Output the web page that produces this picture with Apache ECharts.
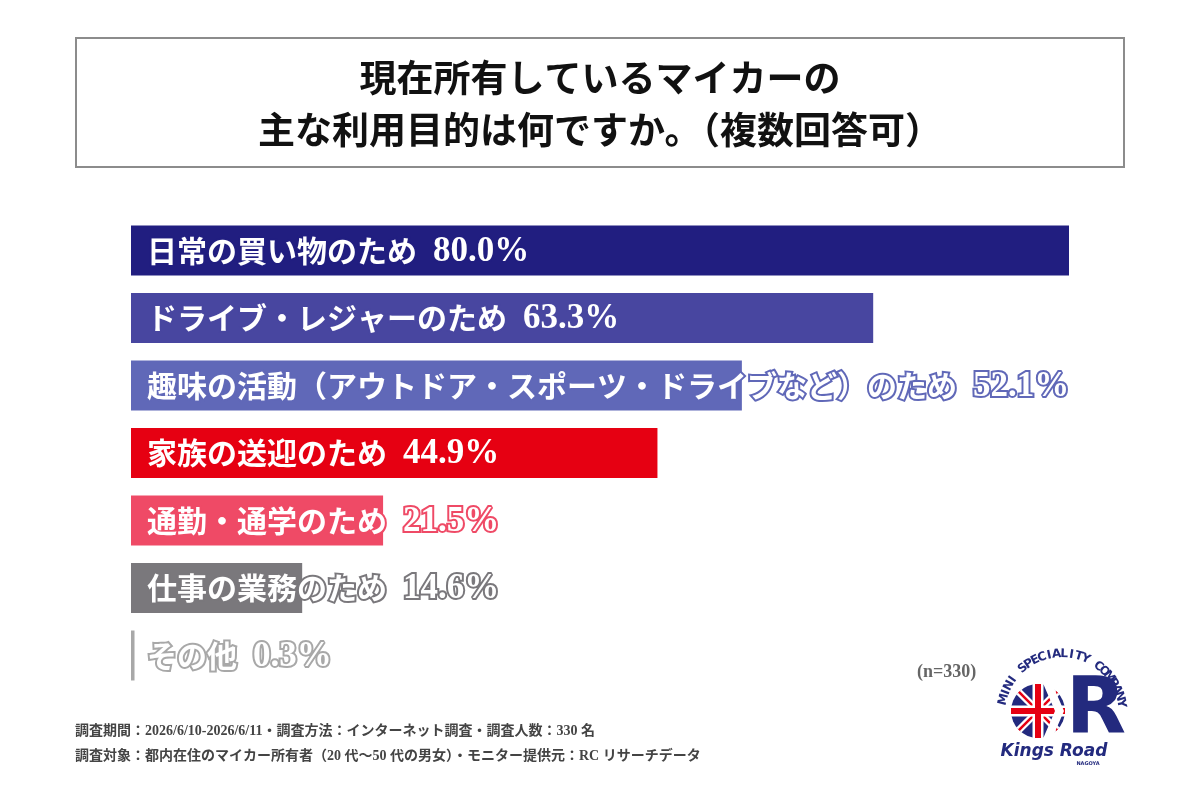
<!DOCTYPE html>
<html>
<head>
<meta charset="utf-8">
<script src="https://cdn.jsdelivr.net/npm/echarts@6/dist/echarts.min.js"></script>
<style>
  html, body { margin: 0; padding: 0; background: #fff; }
  #main { width: 1200px; height: 800px; }
</style>
</head>
<body>
<div id="main"></div>
<script>
// データ
var categories = [
    '日常の買い物のため',
    'ドライブ・レジャーのため',
    '趣味の活動（アウトドア・スポーツ・ドライブなど）のため',
    '家族の送迎のため',
    '通勤・通学のため',
    '仕事の業務のため',
    'その他'
];
var values = [80.0, 63.3, 52.1, 44.9, 21.5, 14.6, 0.3];
var barColors = ['#211e80', '#4846a0', '#6068b8', '#e60012', '#ef4a66', '#7a787c', '#a8a8a8'];

var titleLines = ['現在所有しているマイカーの', '主な利用目的は何ですか。（複数回答可）'];
var noteLines = [
    '調査期間：2026/6/10-2026/6/11・調査方法：インターネット調査・調査人数：330 名',
    '調査対象：都内在住のマイカー所有者（20 代〜50 代の男女）・モニター提供元：RC リサーチデータ'
];
var sampleText = '(n=330)';

var myChart = echarts.init(document.getElementById('main'));

// ロゴの弧状テキスト
var arcText = 'MINI SPECIALITY COMPANY';
var arcItems = [];
var cx = 1062, cy = 714, r = 60;
var a0 = 166, a1 = 10;
for (var i = 0; i < arcText.length; i++) {
    var ang = (a0 + (a1 - a0) * i / (arcText.length - 1)) * Math.PI / 180;
    arcItems.push({
        type: 'text',
        x: cx + r * Math.cos(ang),
        y: cy - r * Math.sin(ang),
        rotation: ang - Math.PI / 2,
        style: {
            text: arcText[i],
            fill: '#232a7e',
            font: 'bold 12px "DejaVu Sans"',
            textAlign: 'center',
            textVerticalAlign: 'middle'
        }
    });
}

// ユニオンジャック風の円
var fx = 1038, fy = 711, fr = 27, d = fr / Math.SQRT2;
var flag = [
    { type: 'circle', shape: { cx: fx, cy: fy, r: fr }, style: { fill: '#232a7e' } },
    { type: 'line', shape: { x1: fx - d, y1: fy - d, x2: fx + d, y2: fy + d }, style: { stroke: '#fff', lineWidth: 7 } },
    { type: 'line', shape: { x1: fx - d, y1: fy + d, x2: fx + d, y2: fy - d }, style: { stroke: '#fff', lineWidth: 7 } },
    { type: 'line', shape: { x1: fx - d, y1: fy - d, x2: fx + d, y2: fy + d }, style: { stroke: '#e60012', lineWidth: 2.5 } },
    { type: 'line', shape: { x1: fx - d, y1: fy + d, x2: fx + d, y2: fy - d }, style: { stroke: '#e60012', lineWidth: 2.5 } },
    { type: 'line', shape: { x1: fx - fr, y1: fy, x2: fx + fr, y2: fy }, style: { stroke: '#fff', lineWidth: 11 } },
    { type: 'line', shape: { x1: fx, y1: fy - fr, x2: fx, y2: fy + fr }, style: { stroke: '#fff', lineWidth: 11 } },
    { type: 'line', shape: { x1: fx - fr, y1: fy, x2: fx + fr, y2: fy }, style: { stroke: '#e60012', lineWidth: 6 } },
    { type: 'line', shape: { x1: fx, y1: fy - fr, x2: fx, y2: fy + fr }, style: { stroke: '#e60012', lineWidth: 6 } },
    { type: 'polygon', shape: { points: [[fx + 4, fy - 30], [fx + 13, fy - 30], [fx + 26, fy], [fx + 13, fy + 30], [fx + 4, fy + 30], [fx + 17, fy]] }, style: { fill: '#fff' } }
];

option = {
    backgroundColor: '#fff',
    animation: false,
    grid: {
        left: 131,
        right: 131,
        top: 216.75,
        height: 472.5
    },
    xAxis: {
        type: 'value',
        min: 0,
        max: 80,
        show: false
    },
    yAxis: {
        type: 'category',
        data: categories,
        inverse: true,
        show: false
    },
    series: [
        {
            type: 'bar',
            barWidth: 50,
            data: values.map(function (v, i) {
                return {
                    value: v,
                    itemStyle: { color: barColors[i] },
                    label: { textBorderColor: barColors[i] }
                };
            }),
            label: {
                show: true,
                position: [16, '50%'],
                verticalAlign: 'middle',
                align: 'left',
                color: '#fff',
                textBorderWidth: 4,
                formatter: function (p) {
                    return '{n|' + p.name + '}{v|' + p.value.toFixed(1) + '%}';
                },
                rich: {
                    n: {
                        color: '#fff',
                        fontSize: 30,
                        fontWeight: 'bold',
                        fontFamily: '"Noto Sans CJK JP"'
                    },
                    v: {
                        color: '#fff',
                        fontSize: 35,
                        fontWeight: 'bold',
                        fontFamily: '"Liberation Serif"',
                        padding: [2, 0, 0, 16]
                    }
                }
            }
        }
    ],
    graphic: [
        {
            type: 'rect',
            shape: { x: 76, y: 38, width: 1048, height: 129 },
            style: { fill: '#fff', stroke: '#8c8c8c', lineWidth: 2 }
        },
        {
            type: 'text',
            x: 600, y: 78,
            style: {
                text: titleLines[0],
                fill: '#111',
                font: 'bold 37px "Noto Sans CJK JP"',
                textAlign: 'center',
                textVerticalAlign: 'middle'
            }
        },
        {
            type: 'text',
            x: 600, y: 130,
            style: {
                text: titleLines[1],
                fill: '#111',
                font: 'bold 37px "Noto Sans CJK JP"',
                textAlign: 'center',
                textVerticalAlign: 'middle'
            }
        },
        {
            type: 'text',
            x: 75, y: 731,
            style: {
                text: noteLines[0],
                fill: '#444',
                font: 'bold 14px "Liberation Serif", "Noto Sans CJK JP"',
                textVerticalAlign: 'middle'
            }
        },
        {
            type: 'text',
            x: 75, y: 756,
            style: {
                text: noteLines[1],
                fill: '#444',
                font: 'bold 14px "Liberation Serif", "Noto Sans CJK JP"',
                textVerticalAlign: 'middle'
            }
        },
        {
            type: 'text',
            x: 917, y: 672,
            style: {
                text: sampleText,
                fill: '#666',
                font: 'bold 18px "Liberation Serif"',
                textVerticalAlign: 'middle'
            }
        },
        {
            type: 'group',
            children: arcItems.concat(flag).concat([
                {
                    type: 'text',
                    x: 1066, y: 713,
                    style: {
                        text: 'R',
                        fill: '#232a7e',
                        font: 'bold 78px "DejaVu Sans"',
                        textVerticalAlign: 'middle'
                    }
                },
                {
                    type: 'text',
                    x: 1054, y: 752,
                    style: {
                        text: 'Kings Road',
                        fill: '#232a7e',
                        font: 'italic 900 17px "DejaVu Sans"',
                        textAlign: 'center',
                        textVerticalAlign: 'middle'
                    }
                },
                {
                    type: 'text',
                    x: 1088, y: 764,
                    style: {
                        text: 'NAGOYA',
                        fill: '#232a7e',
                        font: 'bold 5px "DejaVu Sans"',
                        textAlign: 'center',
                        textVerticalAlign: 'middle'
                    }
                }
            ])
        }
    ]
};

myChart.setOption(option);
window.addEventListener('resize', function () {
    myChart.resize();
});
</script>
</body>
</html>
